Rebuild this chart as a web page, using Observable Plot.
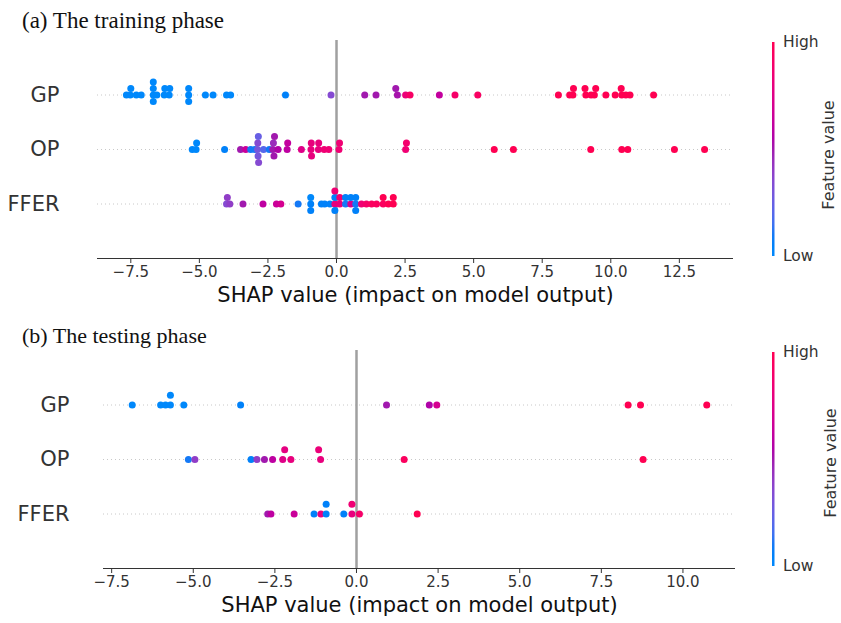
<!DOCTYPE html>
<html><head><meta charset="utf-8">
<script src="https://cdn.jsdelivr.net/npm/d3@7"></script>
<script src="https://cdn.jsdelivr.net/npm/@observablehq/plot@0.6"></script>
<style>
html,body{margin:0;padding:0;background:#fff;}
#root{position:relative;width:841px;height:623px;overflow:hidden;background:#fff;}
.panel{position:absolute;left:0;}
#overlay{position:absolute;left:0;top:0;}
</style></head><body><div id="root"></div>
<script>
const features = ["GP","OP","FFER"];
const xLabel = "SHAP value (impact on model output)";
const titles = ["(a) The training phase", "(b) The testing phase"];
const trainTicks = [-7.5,-5,-2.5,0,2.5,5,7.5,10,12.5];
const testTicks = [-7.5,-5,-2.5,0,2.5,5,7.5,10];

// training phase: SHAP values and normalised feature values (0 = low, 1 = high)
const trainGpShap = [-7.66,-7.52,-7.50,-7.30,-7.12, -6.68,-6.68,-6.68,-6.68,-6.55, -6.28,-6.26,-6.10,-6.08, -5.39,-5.39,-5.39,
  -4.78,-4.50,-4.01,-3.86,-1.86,-0.20, 1.03,1.44,2.22,2.16,2.52,2.68,3.75,4.32,5.15,
  8.09,8.50,8.62,8.64,9.09,9.06,9.28,9.40,9.45,9.82,10.16,10.40,10.38,10.55,10.70,11.56];
const trainGpValue = [0,0,0,0,0, 0,0,0,0,0, 0,0,0,0, 0,0,0,
  0,0,0,0,0.05,0.35, 0.5,0.5,0.52,0.5,0.82,0.92,0.62,0.9,0.93,
  1,1,1,1,1,1,1,1,1,1,1,1,1,1,1,1];
const trainOpShap = [-5.26,-5.12,-5.10,-4.08, -3.50,-3.31,-3.13,-2.98, -2.88,-2.87,-2.86,-2.85,-2.84, -2.66,-2.45,
  -2.32,-2.30,-2.28,-2.26, -2.13,-1.80,-1.78,-1.28, -0.93,-0.92,-0.91,-0.66,-0.65,-0.45,-0.28,
  0.09,0.11,2.52,2.55, 5.75,6.45,9.27,10.40,10.62,12.32,13.42];
const trainOpValue = [0,0,0,0.05, 0.5,0.65,0.1,0.1, 0.3,0.35,0.3,0.25,0.35, 0.2,0.1,
  0.5,0.45,0.5,0.5, 0.55,0.6,0.62,0.75, 0.8,0.8,0.8,0.8,0.8,0.85,0.85,
  0.85,0.85,0.85,0.88, 1,1,1,1,1,1,1];
const trainFferShap = [-4.01,-3.98,-3.89,-3.41,-2.68,-2.19,-2.03,-1.40, -0.94,-0.94,-0.94, -0.55,-0.43,-0.24,
  -0.06,-0.06,-0.06,-0.06, 0.12,0.12, 0.33,0.33, 0.52,0.52, 0.70,0.70,0.70,
  0.91,1.09,1.28,1.46, 1.70,1.70,1.89,2.07,2.07];
const trainFferValue = [0.35,0.4,0.4,0.5,0.6,0.65,0.7,0.1, 0.05,0,0.05, 0.05,0.05,0.05,
  0.8,0.05,0.05,0.85, 0.8,0.85, 0.1,0.05, 0.7,0.05, 0.1,0.05,0.05,
  0.85,0.9,0.95,0.95, 0.95,1,1,1,1];

// testing phase
const testGpShap = [-6.87,-6.00,-5.85,-5.70,-5.70,-5.29,-3.55,0.92,2.23,2.46,8.32,8.70,10.73];
const testGpValue = [0,0,0,0,0,0,0.05,0.5,0.55,0.7,1,1,1];
const testOpShap = [-5.15,-4.95,-3.23,-3.05,-2.82,-2.57,-2.26,-2.20,-2.01,-1.10,-1.16,1.46,8.78];
const testOpValue = [0.1,0.4,0.05,0.4,0.5,0.6,0.75,0.78,0.8,0.8,0.82,0.95,1];
const testFferShap = [-2.72,-2.62,-1.91,-1.30,-1.09,-0.93,-0.93,-0.39,-0.14,-0.14,0.09,1.86];
const testFferValue = [0.5,0.6,0.65,0.05,0.8,0.05,0.05,0.05,0.8,0.85,0.9,1];

// SHAP red_blue colormap (LCh path, lightness dipping in the middle)
function shapColor(t) {
  t = Math.max(0, Math.min(1, t));
  const l = t < 0.5 ? 54 - 14 * (t / 0.5) : 40 + 14 * ((t - 0.5) / 0.5);
  const c = 70 + 20 * t;
  const h = 266.93 + (380.32 - 266.93) * t;
  return d3.hcl(h % 360, c, l).formatHex();
}

// SHAP beeswarm layout (binning into 100 bins, alternate stacking)
function swarm(vals) {
  const N = vals.length, lo = d3.min(vals), hi = d3.max(vals);
  const q = vals.map(v => Math.round(100 * (v - lo) / (hi - lo + 1e-8)));
  const order = d3.range(N).sort((a, b) => (q[a] - q[b]) || (a - b));
  const ys = new Array(N).fill(0);
  let layer = 0, last = -1;
  for (const i of order) {
    if (q[i] !== last) layer = 0;
    ys[i] = Math.ceil(layer / 2) * ((layer % 2) * 2 - 1);
    layer++; last = q[i];
  }
  const m = d3.max(ys, y => y + 1);
  return ys.map(y => y * 0.9 * 0.4 / m);
}

function panel(shaps, values, ticks, marginLeft, marginRight, labelGap) {
  const rows = [];
  shaps.forEach((arr, i) => {
    const off = swarm(arr);
    arr.forEach((s, j) => rows.push({row: i, shap: s, value: values[i][j], off: off[j]}));
  });
  const lo = d3.min(rows, d => d.shap), hi = d3.max(rows, d => d.shap), pad = 0.05 * (hi - lo);
  return Plot.plot({
    width: 841, height: 285, marginTop: 10, marginBottom: 57, marginLeft, marginRight,
    x: {domain: [lo - pad, hi + pad]},
    y: {domain: [3, -1]},
    color: {type: "linear", domain: [0, 1], interpolate: shapColor},
    style: {fontFamily: "DejaVu Sans, sans-serif", background: "white", color: "#333", overflow: "visible"},
    marks: [
      Plot.ruleY([0, 1, 2], {stroke: "#c8c8c8", strokeWidth: 1, strokeDasharray: "1,3"}),
      Plot.ruleX([0], {stroke: "#a0a0a0", strokeWidth: 2.5}),
      Plot.ruleY([3], {stroke: "#333", strokeWidth: 1}),
      Plot.axisX({ticks, tickFormat: d3.format(".1f"), tickSize: 5, tickPadding: 3, fontSize: 15, label: null}),
      Plot.axisY({ticks: [0, 1, 2], tickFormat: i => features[i], tickSize: 0, tickPadding: labelGap, fontSize: 21, label: null}),
      Plot.text([xLabel], {text: d => d, frameAnchor: "bottom", dy: 43, fontSize: 21, fill: "#111"}),
      Plot.dot(rows, {x: "shap", y: d => d.row - d.off, fill: "value", r: 3.5})
    ]
  });
}

const root = document.getElementById("root");
const p1 = panel([trainGpShap, trainOpShap, trainFferShap], [trainGpValue, trainOpValue, trainFferValue], trainTicks, 97, 108, 38);
p1.classList.add("panel"); p1.style.top = "30px";
root.appendChild(p1);
const p2 = panel([testGpShap, testOpShap, testFferShap], [testGpValue, testOpValue, testFferValue], testTicks, 103, 106, 34);
p2.classList.add("panel"); p2.style.top = "340px";
root.appendChild(p2);

// overlay: titles and colour bars
const svg = d3.select(root).append("svg").attr("id", "overlay").attr("width", 841).attr("height", 623);
const grad = svg.append("defs").append("linearGradient").attr("id", "cb").attr("x1", 0).attr("y1", 1).attr("x2", 0).attr("y2", 0);
d3.range(0, 1.0001, 0.05).forEach(t => grad.append("stop").attr("offset", t).attr("stop-color", shapColor(t)));
svg.selectAll("text.title").data(titles).join("text")
  .attr("x", 22).attr("y", (d, i) => i ? 343 : 28)
  .attr("font-family", "Liberation Serif, Times New Roman, serif").attr("font-size", (d, i) => i ? 22 : 23).attr("fill", "#111")
  .text(d => d);
[{y0: 42, y1: 256, lx: 828, ly: 155}, {y0: 352, y1: 566, lx: 830, ly: 463}].forEach(c => {
  svg.append("rect").attr("x", 772).attr("y", c.y0).attr("width", 2.5).attr("height", c.y1 - c.y0).attr("fill", "url(#cb)");
  const g = svg.append("g").attr("font-family", "DejaVu Sans, sans-serif").attr("fill", "#333");
  g.append("text").attr("x", 783).attr("y", c.y0).attr("dy", "0.35em").attr("font-size", 15.5).text("High");
  g.append("text").attr("x", 783).attr("y", c.y1).attr("dy", "0.35em").attr("font-size", 15.5).text("Low");
  g.append("text").attr("transform", `translate(${c.lx},${c.ly}) rotate(-90)`).attr("text-anchor", "middle")
    .attr("dy", "0.35em").attr("font-size", 16).text("Feature value");
});
</script>
</body></html>
